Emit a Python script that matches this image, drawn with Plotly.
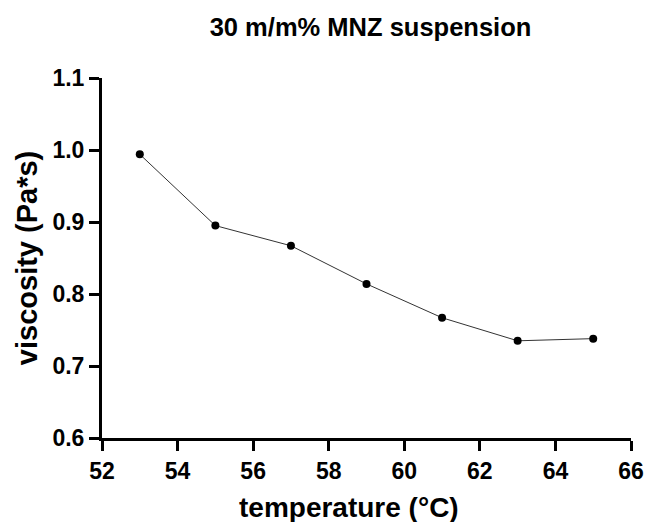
import plotly.graph_objects as go

temperature = [53, 55, 57, 59, 61, 63, 65]
viscosity = [0.994, 0.895, 0.867, 0.814, 0.767, 0.735, 0.738]
x_ticks = [52, 54, 56, 58, 60, 62, 64, 66]
y_ticks = [0.6, 0.7, 0.8, 0.9, 1.0, 1.1]
y_tick_labels = ["0.6", "0.7", "0.8", "0.9", "1.0", "1.1"]

FONT = "Arial, Liberation Sans, sans-serif"

# page body has an 8px margin, so figure coordinates = window - 8
W, H = 648, 514
L, R, T, B = 94, 17, 70, 84
PW, PH = W - L - R, H - T - B

fig = go.Figure()
fig.add_trace(go.Scatter(
    x=temperature, y=viscosity, mode="lines+markers",
    line=dict(color="#333333", width=1),
    marker=dict(color="black", size=8),
    showlegend=False,
))

fig.update_layout(
    width=W, height=H,
    margin=dict(l=L, r=R, t=T, b=B),
    paper_bgcolor="white", plot_bgcolor="white",
    font=dict(family=FONT, color="black"),
    title=dict(text="<b>30 m/m% MNZ suspension</b>", x=(L + PW / 2) / W, xanchor="center",
               y=1 - 19 / H, yanchor="middle", yref="container",
               font=dict(size=25.5, family=FONT, color="black")),
    xaxis=dict(range=[52, 66], tickvals=x_ticks, ticktext=[f"<b>{v}</b>" for v in x_ticks],
               showgrid=False, zeroline=False, showline=True, linecolor="black", linewidth=3,
               ticks="outside", ticklen=10, tickwidth=3, tickcolor="black",
               tickfont=dict(size=23, family=FONT, color="black")),
    yaxis=dict(range=[0.6, 1.1], tickvals=y_ticks, ticktext=[f"<b>{v}</b>" for v in y_tick_labels],
               showgrid=False, zeroline=False, showline=True, linecolor="black", linewidth=3,
               ticks="outside", ticklen=10, tickwidth=3, tickcolor="black",
               tickfont=dict(size=23, family=FONT, color="black")),
    annotations=[
        dict(text="<b>temperature (°C)</b>", xref="paper", yref="paper",
             x=(345 - L) / PW, y=(PH - (499 - T)) / PH, xanchor="center", yanchor="middle",
             showarrow=False, font=dict(size=28, family=FONT, color="black")),
        dict(text="<b>viscosity (Pa*s)</b>", xref="paper", yref="paper",
             x=(18 - L) / PW, y=0.5, xanchor="center", yanchor="middle", textangle=-90,
             showarrow=False, font=dict(size=29, family=FONT, color="black")),
    ],
)

fig.write_html("out.html")
